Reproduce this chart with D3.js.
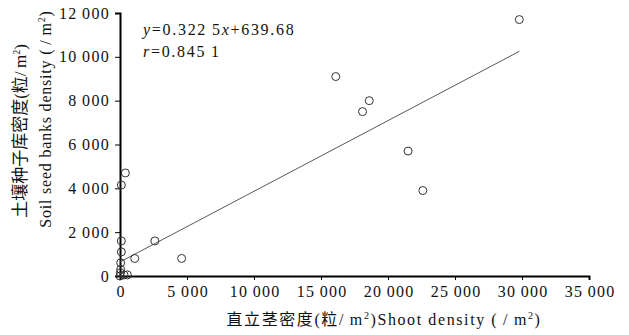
<!DOCTYPE html>
<html>
<head>
<meta charset="utf-8">
<script src="https://cdn.jsdelivr.net/npm/d3@7"></script>
<style>
  body { margin: 0; background: #fff; }
  text { font-family: "Liberation Serif", "Noto Sans CJK SC", serif; fill: #111; }
</style>
</head>
<body>
<div id="chart"></div>
<script>
// shoot density vs soil seed bank density (per m2)
const shootDensity = [29800, 16100, 18600, 18100, 21500, 22600, 4600, 2600, 1100, 400, 100, 100, 100, 50, 50, 30, 0, 300, 550];
const seedDensity  = [11700, 9100, 8000, 7500, 5700, 3900, 800, 1600, 800, 4700, 4150, 1600, 1100, 600, 300, 150, 0, 50, 50];
const xTicks = [0, 5000, 10000, 15000, 20000, 25000, 30000, 35000];
const yTicks = [0, 2000, 4000, 6000, 8000, 10000, 12000];
// fitted line y = 0.3225x + 639.68, drawn over the range of the data
const slope = 0.3225, intercept = 639.68;
const fitRange = [0, 29800];

const width = 629, height = 335;
const margin = {top: 13, right: 40, bottom: 59, left: 120};

const svg = d3.select('#chart').append('svg')
  .attr('width', width)
  .attr('height', height);

const x = d3.scaleLinear().domain([0, 35000]).range([margin.left, width - margin.right]);
const y = d3.scaleLinear().domain([0, 12000]).range([height - margin.bottom, margin.top]);

const fmt = v => d3.format(',')(v).replace(/,/g, '\u2009');

// axes
const xAxis = svg.append('g')
  .attr('transform', 'translate(0,' + y(0) + ')')
  .call(d3.axisBottom(x).tickValues(xTicks).tickFormat(fmt).tickSize(4).tickPadding(6));
const yAxis = svg.append('g')
  .attr('transform', 'translate(' + x(0) + ',0)')
  .call(d3.axisLeft(y).tickValues(yTicks).tickFormat(fmt).tickSize(5).tickPadding(5));

[xAxis, yAxis].forEach(a => {
  a.select('.domain').attr('stroke', '#000').attr('stroke-width', 2);
  a.selectAll('.tick line').attr('stroke', '#000').attr('stroke-width', 1);
  a.selectAll('.tick text')
    .style('font-family', '"Liberation Serif", serif')
    .style('font-size', '16px')
    .style('letter-spacing', '1.3px')
    .attr('fill', '#111');
});
// keep centred x labels centred despite trailing letter spacing
xAxis.selectAll('.tick text').attr('dx', 0.65);

// regression line
svg.append('line')
  .attr('x1', x(fitRange[0])).attr('y1', y(slope * fitRange[0] + intercept))
  .attr('x2', x(fitRange[1])).attr('y2', y(slope * fitRange[1] + intercept))
  .attr('stroke', '#444')
  .attr('stroke-width', 0.9);

// points
svg.append('g')
  .selectAll('circle')
  .data(shootDensity.map((d, i) => [d, seedDensity[i]]))
  .enter()
  .append('circle')
    .attr('cx', d => x(d[0]))
    .attr('cy', d => y(d[1]))
    .attr('r', 4)
    .attr('fill', 'none')
    .attr('stroke', '#333')
    .attr('stroke-width', 1);

// equation
const eq = svg.append('text').attr('x', 143).attr('y', 35)
  .style('font-size', '16px').style('letter-spacing', '1.7px');
eq.append('tspan').style('font-style', 'italic').text('y');
eq.append('tspan').text('=0.322\u20095');
eq.append('tspan').style('font-style', 'italic').text('x');
eq.append('tspan').text('+639.68');
const rt = svg.append('text').attr('x', 143).attr('y', 57)
  .style('font-size', '16px').style('letter-spacing', '1.7px');
rt.append('tspan').style('font-style', 'italic').text('r');
rt.append('tspan').text('=0.845\u20091');

// axis titles
const xt = svg.append('text')
  .attr('x', 384).attr('y', 325)
  .attr('text-anchor', 'middle')
  .style('font-size', '16px')
  .style('letter-spacing', '1.6px');
xt.append('tspan').text('直立茎密度(粒/\u2009m');
xt.append('tspan').attr('dy', -6).style('font-size', '10px').text('2');
xt.append('tspan').attr('dy', 6).text(')Shoot density (\u2009/\u2009m');
xt.append('tspan').attr('dy', -6).style('font-size', '10px').text('2');
xt.append('tspan').attr('dy', 6).text(')');

const yt1 = svg.append('text')
  .attr('transform', 'translate(26,131) rotate(-90)')
  .attr('text-anchor', 'middle')
  .style('font-size', '17px');
yt1.append('tspan').text('土壤种子库密度(粒/\u2009m');
yt1.append('tspan').attr('dy', -6).style('font-size', '10px').text('2');
yt1.append('tspan').attr('dy', 6).text(')');

const yt2 = svg.append('text')
  .attr('transform', 'translate(51,119) rotate(-90)')
  .attr('text-anchor', 'middle')
  .style('font-size', '16px')
  .style('letter-spacing', '0.8px');
yt2.append('tspan').text('Soil seed banks density (\u2009/\u2009m');
yt2.append('tspan').attr('dy', -6).style('font-size', '10px').text('2');
yt2.append('tspan').attr('dy', 6).text(')');
</script>
</body>
</html>
